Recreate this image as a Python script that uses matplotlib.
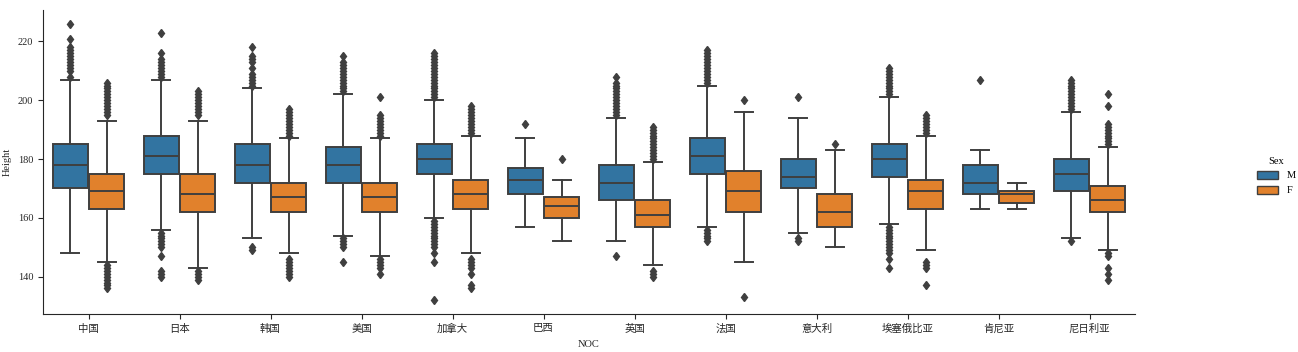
import matplotlib
matplotlib.use('Agg')
import matplotlib.pyplot as plt
import matplotlib.patches as mpatches

plt.rcParams['font.family'] = ['Liberation Serif', 'Noto Sans CJK SC', 'DejaVu Sans']

# data (heights in cm)
countries = ['中国', '日本', '韩国', '美国', '加拿大', '巴西', '英国', '法国', '意大利', '埃塞俄比亚', '肯尼亚', '尼日利亚']
sexes = ['M', 'F']

m_q1 = [170, 175, 172, 172, 175, 168, 166, 175, 170, 174, 168, 169]
m_med = [178, 181, 178, 178, 180, 173, 172, 181, 174, 180, 172, 175]
m_q3 = [185, 188, 185, 184, 185, 177, 178, 187, 180, 185, 178, 180]
m_lo = [148, 156, 153, 154, 160, 157, 152, 157, 155, 158, 163, 153]
m_hi = [207, 207, 204, 202, 200, 187, 194, 205, 194, 201, 183, 196]
m_fliers = [
    [208, 210, 211, 212, 213, 214, 215, 216, 217, 218, 221, 226],
    [208, 209, 210, 211, 212, 213, 214, 216, 223, 155, 154, 153, 152, 151, 150, 147, 142, 141, 140],
    [205, 206, 207, 208, 209, 211, 213, 214, 215, 218, 150, 149],
    [203, 204, 205, 206, 207, 208, 209, 210, 211, 212, 213, 215, 153, 152, 151, 150, 145],
    [201, 202, 203, 204, 205, 206, 207, 208, 209, 210, 211, 212, 213, 214, 215, 216,
     159, 158, 157, 156, 155, 154, 153, 152, 151, 150, 148, 145, 132],
    [192],
    [195, 196, 197, 198, 199, 200, 201, 202, 203, 204, 205, 206, 208, 147],
    [206, 207, 208, 209, 210, 211, 212, 213, 214, 215, 216, 217, 156, 155, 154, 153, 152],
    [201, 153, 152],
    [202, 203, 204, 205, 206, 207, 208, 209, 210, 211,
     157, 156, 155, 154, 153, 152, 151, 150, 149, 148, 146, 143],
    [207],
    [197, 198, 199, 200, 201, 202, 203, 204, 205, 206, 207, 152],
]

f_q1 = [163, 162, 162, 162, 163, 160, 157, 162, 157, 163, 165, 162]
f_med = [169, 168, 167, 167, 168, 164, 161, 169, 162, 169, 168, 166]
f_q3 = [175, 175, 172, 172, 173, 167, 166, 176, 168, 173, 169, 171]
f_lo = [145, 143, 148, 147, 148, 152, 144, 145, 150, 149, 163, 149]
f_hi = [193, 193, 187, 187, 188, 173, 179, 196, 183, 188, 172, 184]
f_fliers = [
    [195, 196, 197, 198, 199, 200, 201, 202, 203, 204, 205, 206, 144, 143, 142, 141, 140, 139, 138, 137, 136],
    [195, 196, 197, 198, 199, 200, 201, 202, 203, 142, 141, 140, 139],
    [188, 189, 190, 191, 192, 193, 194, 195, 196, 197, 146, 145, 144, 143, 142, 141, 140],
    [188, 189, 190, 191, 192, 193, 194, 195, 201, 146, 145, 144, 143, 141],
    [189, 190, 191, 192, 193, 194, 195, 196, 197, 198, 146, 145, 144, 143, 141, 137, 136],
    [180],
    [180, 181, 182, 183, 184, 185, 186, 187, 188, 189, 190, 191, 142, 141, 140],
    [200, 133],
    [185],
    [189, 190, 191, 192, 193, 194, 195, 145, 144, 143, 137],
    [],
    [185, 186, 187, 188, 189, 190, 191, 192, 198, 202, 148, 147, 143, 141, 139],
]

colors = ['#3274a1', '#e1812c']
gray = '#3f3f3f'


def make_stats(q1, med, q3, lo, hi, fliers):
    return [dict(q1=a, med=b, q3=c, whislo=d, whishi=e, fliers=f, label='')
            for a, b, c, d, e, f in zip(q1, med, q3, lo, hi, fliers)]


groups = [make_stats(m_q1, m_med, m_q3, m_lo, m_hi, m_fliers),
          make_stats(f_q1, f_med, f_q3, f_lo, f_hi, f_fliers)]

fig = plt.figure(figsize=(12.98, 3.52), dpi=100)
ax = fig.add_axes([43 / 1298, 38 / 352, 1092 / 1298, 304 / 352])

lw = 1.4
offsets = [-0.2, 0.2]
for stats, off, col in zip(groups, offsets, colors):
    pos = [i + off for i in range(len(countries))]
    ax.bxp(stats, positions=pos, widths=0.39, patch_artist=True, manage_ticks=False,
           boxprops=dict(facecolor=col, edgecolor=gray, linewidth=lw),
           medianprops=dict(color=gray, linewidth=lw),
           whiskerprops=dict(color=gray, linewidth=lw),
           capprops=dict(color=gray, linewidth=lw),
           flierprops=dict(marker='d', markerfacecolor=gray, markeredgecolor=gray,
                           markersize=4.5, linestyle='none'))

ax.set_xlim(-0.5, len(countries) - 0.5)
ax.set_ylim(127.3, 230.7)
ax.set_xticks(range(len(countries)))
ax.set_xticklabels(countries)
ax.set_yticks([140, 160, 180, 200, 220])
ax.tick_params(labelsize=7.5, length=3.5, color='#262626', labelcolor='#262626')
ax.set_xlabel('NOC', fontsize=7.5, color='#262626')
ax.set_ylabel('Height', fontsize=7.5, color='#262626')
for s in ['top', 'right']:
    ax.spines[s].set_visible(False)
for s in ['left', 'bottom']:
    ax.spines[s].set_color('#262626')

handles = [mpatches.Patch(facecolor=c, edgecolor=gray, linewidth=1, label=s)
           for c, s in zip(colors, sexes)]
fig.legend(handles=handles, title='Sex', loc='center left',
           bbox_to_anchor=(1248 / 1298, 0.5), frameon=False,
           fontsize=7.5, title_fontsize=7.5, handlelength=2.0, handleheight=0.8)

fig.savefig('out.png', dpi=100)
